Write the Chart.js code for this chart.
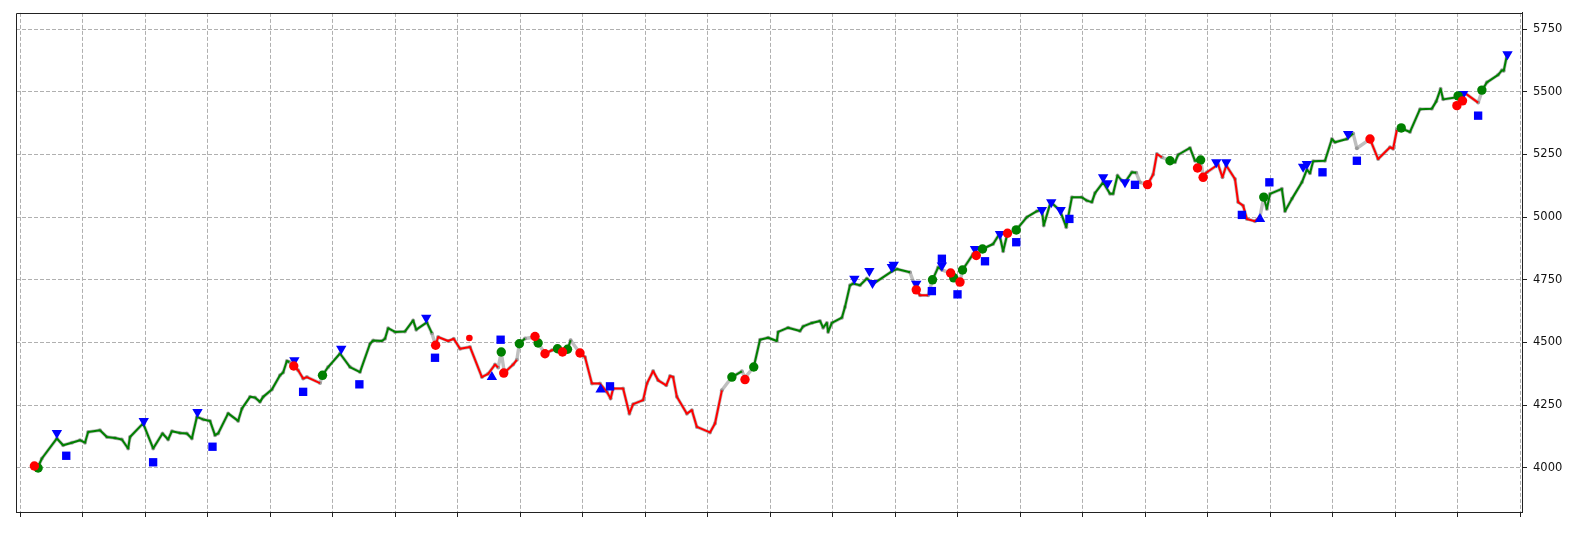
<!DOCTYPE html>
<html>
<head>
<meta charset="utf-8">
<script src="https://cdn.jsdelivr.net/npm/chart.js@4.4.1/dist/chart.umd.min.js"></script>
<style>
  html, body { margin: 0; padding: 0; background: #fff; }
  #wrap { width: 1580px; height: 553px; }
</style>
</head>
<body>
<div id="wrap"><canvas id="myChart" width="1580" height="553"></canvas></div>
<script>
'use strict';

// price line: position on the x axis and closing value
let dayIdx = [
  2.9, 3.5, 5.9, 6.9, 8.3, 9.6, 10.4, 10.9, 12.8, 13.9, 15.2, 16.3, 17.3, 17.6, 19.7, 21.3, 22.8, 23.7, 24.3, 25.6,
  26.7, 27.5, 28.3, 29.3, 30.4, 31.2, 31.7, 33.3, 34.9, 35.5, 36.8, 37.6, 38.4, 38.9, 40.3, 41.6, 42.1, 42.7, 43.1, 43.8,
  44.5, 45.3, 45.9, 48.0, 48.4, 49.3, 51.2, 52.8, 54.4, 56.0, 56.5, 57.9, 58.4, 58.9, 60.0, 61.6, 62.9, 63.4, 65.1, 65.9,
  66.5, 66.9, 68.5, 69.4, 70.4, 72.0, 73.9, 74.9, 76.0, 76.5, 77.0, 77.5, 78.9, 79.5, 79.9, 80.8, 82.4, 82.9, 84.0, 85.1,
  86.0, 86.8, 87.6, 88.1, 89.6, 90.4, 91.5, 92.8, 93.9, 94.5, 94.9, 96.5, 97.5, 98.1, 99.7, 100.3, 101.3, 102.1, 103.4, 104.0,
  104.5, 105.1, 106.7, 107.5, 108.3, 110.4, 111.2, 112.3, 113.9, 115.5, 116.0, 117.4, 118.4, 119.7, 121.1, 121.3, 122.9, 124.8, 125.3, 126.7,
  128.0, 128.5, 129.1, 129.3, 129.9, 131.5, 132.0, 132.8, 133.3, 134.4, 135.5, 136.5, 139.5, 140.3, 142.4, 143.4, 144.0, 145.3, 146.0, 146.9,
  147.5, 148.9, 149.4, 150.4, 150.8, 152.5, 153.0, 154.0, 155.7, 156.7, 157.3, 158.0, 159.4, 161.1, 162.7, 163.5, 163.8, 164.9, 166.4, 167.4,
  168.3, 169.9, 170.7, 171.5, 172.0, 173.3, 174.4, 174.9, 175.6, 176.3, 176.8, 177.9, 178.6, 179.2, 180.4, 181.3, 181.9, 182.7, 184.0, 184.8,
  185.3, 187.2, 188.0, 188.9, 189.3, 189.9, 191.7, 192.4, 193.0, 194.4, 194.9, 195.7, 196.3, 197.6, 198.4, 199.0, 199.5, 200.0, 201.9, 202.4,
  203.5, 205.1, 205.9, 206.4, 206.9, 208.8, 209.9, 210.4, 212.3, 213.3, 213.9, 216.0, 217.3, 219.2, 219.7, 220.3, 220.9, 222.4, 224.0, 225.9,
  226.6, 227.3, 227.7, 229.9, 230.1, 231.2, 233.3, 234.0, 234.7, 236.5, 237.1, 237.4, 237.9
];
let close = [
  4004, 4037, 4117, 4090, 4100, 4110, 4100, 4143, 4150, 4123, 4119, 4113, 4077, 4123, 4177, 4077, 4137, 4113, 4146, 4139,
  4137, 4117, 4203, 4193, 4187, 4130, 4137, 4217, 4187, 4236, 4283, 4280, 4263, 4283, 4312, 4369, 4380, 4426, 4422, 4406,
  4389, 4356, 4362, 4338, 4369, 4402, 4456, 4402, 4382, 4495, 4508, 4506, 4515, 4557, 4542, 4544, 4588, 4551, 4580, 4537,
  4489, 4522, 4506, 4515, 4475, 4482, 4362, 4375, 4412, 4400, 4460, 4379, 4412, 4431, 4496, 4516, 4522, 4498, 4455, 4469,
  4475, 4460, 4472, 4509, 4457, 4442, 4336, 4336, 4303, 4276, 4316, 4316, 4216, 4254, 4270, 4336, 4386, 4349, 4329, 4366,
  4362, 4283, 4216, 4230, 4163, 4141, 4177, 4309, 4362, 4385, 4360, 4402, 4511, 4519, 4506, 4542, 4559, 4546, 4564, 4578,
  4586, 4559, 4578, 4542, 4578, 4599, 4642, 4728, 4735, 4728, 4755, 4734, 4784, 4793, 4780, 4712, 4688, 4688, 4750, 4800,
  4790, 4777, 4758, 4741, 4789, 4853, 4847, 4873, 4893, 4933, 4864, 4936, 4949, 5000, 5024, 5029, 4967, 5060, 5027, 4960,
  5079, 5079, 5066, 5060, 5096, 5139, 5093, 5093, 5166, 5146, 5139, 5179, 5177, 5139, 5130, 5170, 5252, 5239, 5225, 5219,
  5249, 5276, 5225, 5228, 5166, 5179, 5210, 5159, 5206, 5152, 5060, 5046, 4993, 4984, 5003, 5079, 5033, 5093, 5113, 5024,
  5073, 5139, 5190, 5175, 5223, 5225, 5312, 5299, 5312, 5334, 5275, 5311, 5232, 5279, 5273, 5348, 5355, 5340, 5431, 5433,
  5462, 5512, 5470, 5478, 5487, 5495, 5457, 5508, 5538, 5568, 5586, 5584, 5645
];

// trend of each line segment: g = up, r = down, - = none (only the grey line)
let trendRuns = [
  ['g', 38], ['-', 1], ['r', 4], ['-', 1], ['g', 15], ['-', 1], ['r', 9], ['-', 2], ['r', 2], ['-', 1],
  ['g', 1], ['-', 3], ['r', 2], ['g', 1], ['-', 1], ['g', 1], ['-', 1], ['r', 23], ['-', 1], ['g', 1],
  ['-', 2], ['g', 23], ['-', 1], ['r', 2], ['-', 1], ['g', 2], ['-', 4], ['g', 1], ['-', 2], ['g', 4],
  ['-', 1], ['g', 20], ['-', 2], ['r', 3], ['-', 1], ['g', 5], ['-', 1], ['r', 10], ['-', 1], ['g', 14],
  ['-', 2], ['r', 4], ['-', 1], ['g', 8], ['r', 2], ['-', 1], ['g', 5]
];

// signal markers [x, value]
let redDots = [
  [2.3, 4007], [43.8, 4406], [66.5, 4489], [77.4, 4378], [82.4, 4524], [84.0, 4455], [86.8, 4462], [89.6, 4458],
  [116.0, 4352], [143.4, 4710], [148.9, 4777], [150.4, 4741], [153.0, 4847], [158.0, 4936], [180.4, 5130],
  [188.4, 5196], [189.3, 5159], [216.0, 5312], [229.9, 5445], [230.8, 5464]
];
let smallRedDots = [[71.9, 4518]];
let greenDots = [
  [2.9, 3999], [48.4, 4369], [77.0, 4462], [79.9, 4495], [82.9, 4498], [86.0, 4475], [87.6, 4473], [113.9, 4362],
  [117.4, 4402], [146.0, 4750], [149.4, 4758], [150.8, 4789], [154.0, 4873], [159.4, 4949], [184.0, 5225],
  [188.9, 5228], [199.0, 5080], [221.0, 5356], [230.1, 5484], [233.9, 5507]
];
let downTriangles = [
  [5.9, 4139], [19.8, 4187], [28.4, 4223], [43.9, 4429], [51.4, 4475], [65.0, 4599], [133.5, 4754], [135.9, 4785],
  [136.4, 4737], [139.5, 4801], [139.8, 4810], [143.4, 4734], [147.5, 4807], [152.8, 4873], [156.8, 4933],
  [163.5, 5029], [165.0, 5059], [166.5, 5029], [173.3, 5159], [174.0, 5135], [176.8, 5139], [191.4, 5219],
  [193.0, 5219], [205.3, 5201], [205.9, 5212], [212.5, 5332], [230.9, 5491], [238.0, 5650]
];
let upTriangles = [[75.5, 4362], [92.9, 4312], [198.4, 4993]];
let squares = [
  [7.4, 4048], [21.3, 4022], [30.8, 4084], [45.3, 4303], [54.3, 4333], [66.4, 4439], [76.9, 4511], [94.4, 4325],
  [145.9, 4705], [147.5, 4834], [150.0, 4692], [154.4, 4824], [159.4, 4900], [167.9, 4993], [178.4, 5129],
  [195.5, 5009], [199.9, 5139], [208.4, 5179], [213.9, 5225], [233.3, 5405]
];

let xTicks = [];
for (let i = 0; i <= 24; i++) {
  xTicks.push(i * 10);
}
let yTicks = [4000, 4250, 4500, 4750, 5000, 5250, 5500, 5750];

let trendColors = { g: '#008000', r: '#ff0000', '-': 'rgba(0,0,0,0)' };
let segColor = [];
for (let i = 0; i < trendRuns.length; i++) {
  for (let j = 0; j < trendRuns[i][1]; j++) {
    segColor.push(trendColors[trendRuns[i][0]]);
  }
}

let linePoints = [];
for (let i = 0; i < dayIdx.length; i++) {
  linePoints.push({ x: dayIdx[i], y: close[i] });
}

function toPoints(arr) {
  return arr.map(p => ({ x: p[0], y: p[1] }));
}

function markerSet(label, arr, style, radius, color, rotation, order) {
  return {
    label: label,
    data: toPoints(arr),
    showLine: false,
    pointStyle: style,
    pointRadius: radius,
    pointHoverRadius: radius,
    pointRotation: rotation,
    pointBackgroundColor: color,
    pointBorderColor: color,
    pointBorderWidth: 0,
    order: order
  };
}

// box round the plot (top and left sides; the axes draw the others)
const frame = {
  id: 'frame',
  afterDraw(chart) {
    const a = chart.chartArea;
    const c = chart.ctx;
    const l = Math.round(a.left) + 0.5;
    const t = Math.round(a.top) + 0.5;
    c.save();
    c.strokeStyle = '#222';
    c.lineWidth = 1;
    c.beginPath();
    c.moveTo(l, Math.round(a.bottom));
    c.lineTo(l, t);
    c.lineTo(Math.round(a.right), t);
    c.stroke();
    c.restore();
  }
};

let ctx = document.getElementById('myChart').getContext('2d');
let myChart = new Chart(ctx, {
  type: 'scatter',
  data: {
    datasets: [
      markerSet('sell', redDots, 'circle', 4.7, '#ff0000', 0, 0),
      markerSet('sell small', smallRedDots, 'circle', 3.3, '#ff0000', 0, 0),
      markerSet('buy', greenDots, 'circle', 4.7, '#008000', 0, 0),
      markerSet('peak', downTriangles, 'triangle', 6, '#0000ff', 180, 1),
      markerSet('trough', upTriangles, 'triangle', 6, '#0000ff', 0, 1),
      markerSet('level', squares, 'rect', 5.9, '#0000ff', 0, 1),
      {
        label: 'trend',
        data: linePoints,
        showLine: true,
        borderWidth: 2,
        borderJoinStyle: 'round',
        pointRadius: 0,
        pointHoverRadius: 0,
        tension: 0,
        segment: {
          borderColor: c => segColor[c.p0DataIndex]
        },
        order: 2
      },
      {
        label: 'close',
        data: linePoints,
        showLine: true,
        borderColor: 'rgba(128,128,128,0.5)',
        borderWidth: 3.4,
        borderJoinStyle: 'round',
        pointRadius: 2,
        pointHoverRadius: 2,
        pointBackgroundColor: 'rgba(128,128,128,0.6)',
        pointBorderWidth: 0,
        tension: 0,
        order: 3
      }
    ]
  },
  options: {
    responsive: false,
    animation: false,
    devicePixelRatio: 1,
    layout: { padding: { left: 16, top: 12, right: 0, bottom: 0 } },
    plugins: {
      legend: { display: false },
      tooltip: { enabled: false }
    },
    scales: {
      x: {
        type: 'linear',
        min: -0.64,
        max: 240.32,
        afterBuildTicks: s => { s.ticks = xTicks.map(v => ({ value: v })); },
        afterFit: s => { s.height = 41; },
        ticks: { display: false },
        grid: { color: '#b0b0b0', lineWidth: 1, tickLength: 5, tickColor: '#222', tickWidth: 1 },
        border: { display: true, color: '#222', width: 1, dash: [4, 2] }
      },
      y: {
        type: 'linear',
        position: 'right',
        min: 3823.6,
        max: 5815,
        afterBuildTicks: s => { s.ticks = yTicks.map(v => ({ value: v })); },
        afterFit: s => { s.width = 58; },
        ticks: {
          color: '#111',
          padding: 6,
          font: { family: 'DejaVu Sans', size: 11.5 },
          callback: v => String(v)
        },
        grid: { color: '#b0b0b0', lineWidth: 1, tickLength: 5, tickColor: '#222', tickWidth: 1 },
        border: { display: true, color: '#222', width: 1, dash: [4, 2] }
      }
    }
  },
  plugins: [frame]
});
</script>
</body>
</html>
